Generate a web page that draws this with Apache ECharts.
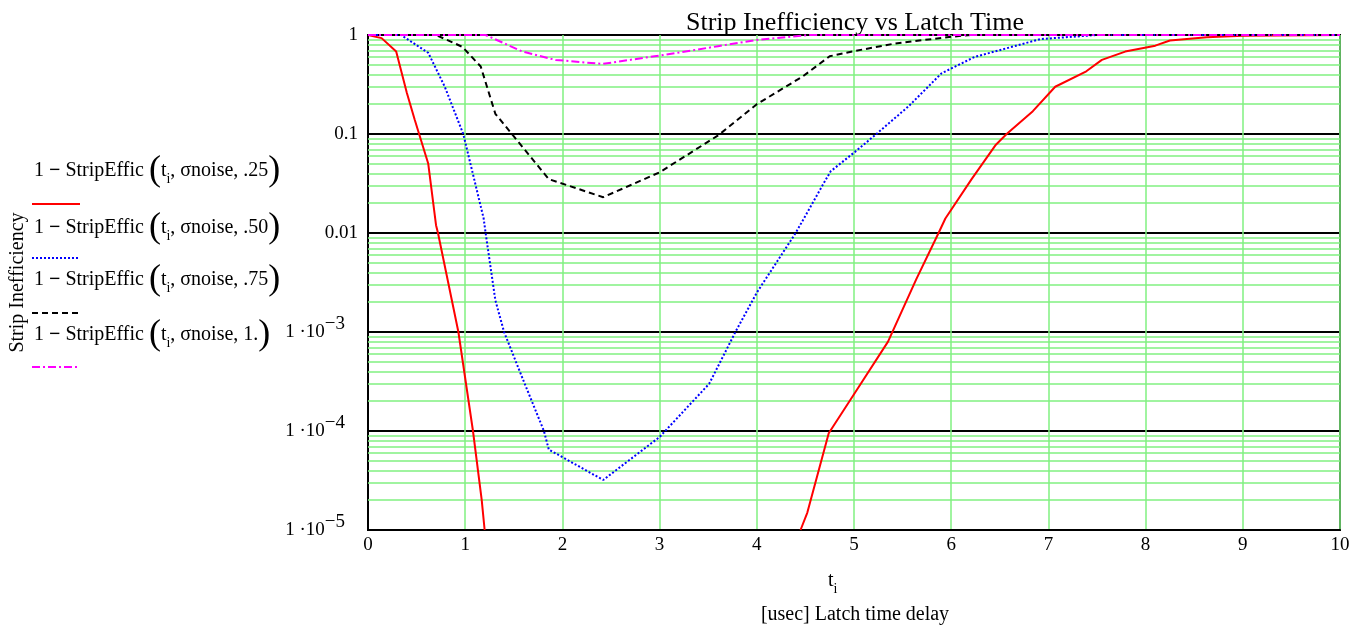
<!DOCTYPE html>
<html>
<head>
<meta charset="utf-8">
<script src="https://cdn.jsdelivr.net/npm/echarts@6/dist/echarts.min.js"></script>
<style>
  html, body { margin: 0; padding: 0; background: #fff; }
  #main { width: 1365px; height: 631px; }
</style>
</head>
<body>
<div id="main"></div>
<script>
// values: [t (usec), 1 - StripEffic]
var red25 = [[0,1],[0.14,0.93],[0.29,0.68],[0.40,0.26],[0.48,0.14],[0.62,0.05],[0.70,0.012],[0.72,0.01],
    [0.93,1.0e-3],[1.08,1.0e-4],[1.17,2e-5],[1.20,1e-5],[null,null],
    [4.45,1e-5],[4.52,1.5e-5],[4.74,9.5e-5],[5.05,2.8e-4],[5.35,8e-4],[5.64,3.4e-3],[5.87,0.01],[5.94,0.014],
    [6.21,0.035],[6.46,0.078],[6.57,0.1],[6.84,0.17],[7.07,0.30],[7.39,0.43],[7.55,0.56],[7.79,0.68],
    [8.10,0.78],[8.25,0.88],[8.63,0.95],[9.0,0.985],[10,1]];
var blue50 = [[0,1],[0.34,1],[0.36,0.98],[0.62,0.66],[0.79,0.30],[0.98,0.10],[1.19,0.014],[1.21,0.01],
    [1.31,2.1e-3],[1.40,1e-3],[1.59,3.4e-4],[1.81,1e-4],[1.86,6.5e-5],[2.42,3.2e-5],[3.0,8.7e-5],
    [3.51,3.0e-4],[3.78,1e-3],[4.0,2.5e-3],[4.40,0.01],[4.69,0.032],[4.76,0.042],[5.01,0.066],
    [5.22,0.098],[5.56,0.19],[5.90,0.41],[6.24,0.60],[6.92,0.91],[7.5,1],[10,1]];
var black75 = [[0,1],[0.70,1],[0.97,0.76],[1.16,0.48],[1.31,0.16],[1.86,0.035],[2.42,0.023],[3.0,0.041],
    [3.61,0.098],[4.0,0.20],[4.47,0.38],[4.75,0.61],[5.01,0.69],[5.42,0.82],[6.0,0.96],[6.2,1],[10,1]];
var magenta100 = [[0,1],[1.21,1],[1.59,0.68],[1.93,0.56],[2.41,0.51],[3.0,0.62],[3.6,0.77],[4.0,0.89],
    [4.54,1],[10,1]];

var legendArgs = ['.25', '.50', '.75', '1.'];
var yTickExp = [0, -1, -2, -3, -4, -5];
var yTickText = ['1', '0.1', '0.01', '{m|1 ·10}{e|−3}', '{m|1 ·10}{e|−4}', '{m|1 ·10}{e|−5}'];

var serif = 'Liberation Serif';
var green = '#80F080';

// minor log grid lines (2..9 in each decade)
var minorLines = [];
for (var n = -5; n < 0; n++) {
    for (var k = 2; k <= 9; k++) {
        minorLines.push({ yAxis: k * Math.pow(10, n) });
    }
}

var styles = [
    { color: '#FF0000', type: 'solid', width: 2 },
    { color: '#0000FF', type: [2, 2], width: 2 },
    { color: '#000000', type: [6, 4], width: 2 },
    { color: '#FF00FF', type: [8, 3, 2, 3], width: 2 }
];
var seriesData = [red25, blue50, black75, magenta100];

var legendY = [171, 228, 280, 335];
var sampleY = [204, 258, 313, 367];

var graphics = [
    { type: 'text', x: 855, y: 36, style: { text: 'Strip Inefficiency vs Latch Time', font: '26px ' + serif, fill: '#000', align: 'center', verticalAlign: 'bottom' } },
    { type: 'text', x: 828, y: 566, style: { text: '{t|t}{s|i}', rich: { t: { fontSize: 20, fontFamily: serif }, s: { fontSize: 14, fontFamily: serif, padding: [16, 0, 0, 0] } }, fill: '#000' } },
    { type: 'text', x: 855, y: 615, style: { text: '[usec] Latch time delay', font: '20px ' + serif, fill: '#000', align: 'center', verticalAlign: 'middle' } }
];
legendArgs.forEach(function (a, i) {
    graphics.push({
        type: 'text', x: 34, y: legendY[i],
        style: {
            text: '1 {b|−} StripEffic {p|(}t{s|i}, σnoise, ' + a + '{p|)}',
            fontSize: 20, fontFamily: serif, fill: '#000', verticalAlign: 'middle',
            rich: {
                b: { fontSize: 20, fontFamily: serif, fontWeight: 'bold' },
                p: { fontSize: 36, fontFamily: serif },
                s: { fontSize: 14, fontFamily: serif, padding: [16, 0, 0, 0] }
            }
        }
    });
    graphics.push({
        type: 'line', shape: { x1: 32, y1: sampleY[i], x2: 80, y2: sampleY[i] },
        style: { stroke: styles[i].color, lineWidth: 2, lineDash: styles[i].type === 'solid' ? null : styles[i].type }
    });
});

var series = seriesData.map(function (d, i) {
    return {
        type: 'line', data: d, showSymbol: false, connectNulls: false, z: 5,
        lineStyle: styles[i], itemStyle: { color: styles[i].color }, clip: true
    };
});
series.push({
    type: 'line', data: [[0, 1]], showSymbol: false, z: 1, lineStyle: { opacity: 0 },
    markLine: {
        silent: true, symbol: 'none', label: { show: false }, animation: false, precision: 12,
        lineStyle: { color: green, width: 1.5, type: 'solid' },
        data: minorLines
    }
});

var myChart = echarts.init(document.getElementById('main'));
var option = {
    animation: false,
    graphic: graphics,
    grid: { left: 367, right: 25, top: 35, bottom: 101, show: true, borderColor: '#000', borderWidth: 2 },
    xAxis: {
        type: 'value', min: 0, max: 10, interval: 1,
        axisLine: { lineStyle: { color: '#000', width: 2 } },
        axisTick: { show: false },
        axisLabel: { color: '#000', fontSize: 19, fontFamily: serif, margin: 6 },
        splitLine: { show: true, lineStyle: { color: green, width: 1.5 } }
    },
    yAxis: {
        type: 'log', logBase: 10, min: 1e-5, max: 1,
        name: 'Strip Inefficiency', nameLocation: 'middle', nameGap: 340, nameRotate: 90,
        nameTextStyle: { color: '#000', fontSize: 20, fontFamily: serif },
        axisLine: { lineStyle: { color: '#000', width: 2 } },
        axisTick: { show: false },
        axisLabel: {
            color: '#000', fontSize: 19, fontFamily: serif, margin: 10,
            formatter: function (v) {
                var e = Math.round(Math.log10(v));
                var idx = yTickExp.indexOf(e);
                return idx >= 0 ? yTickText[idx] : '';
            },
            rich: {
                m: { fontSize: 19, fontFamily: serif, color: '#000' },
                e: { fontSize: 19, fontFamily: serif, color: '#000', padding: [0, 13, 16, 0] }
            }
        },
        splitLine: { show: true, lineStyle: { color: '#000', width: 2 } }
    },
    series: series
};
myChart.setOption(option);
</script>
</body>
</html>
